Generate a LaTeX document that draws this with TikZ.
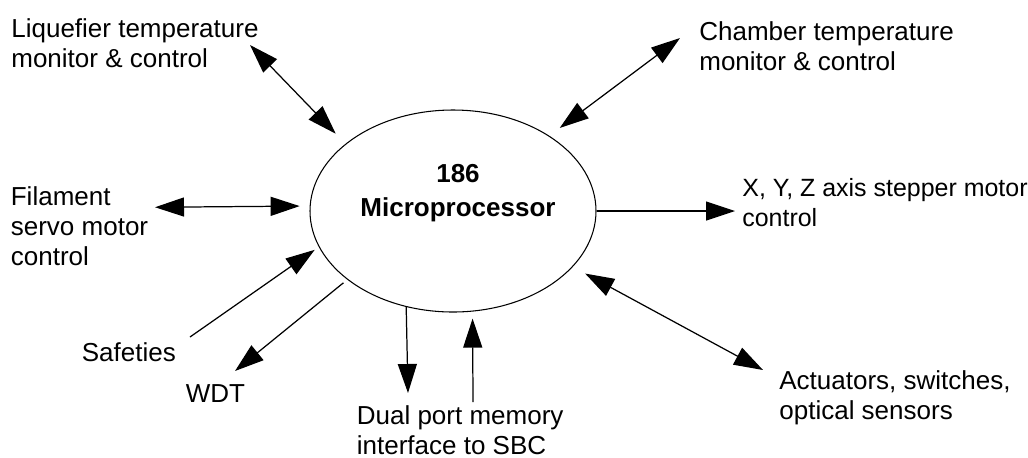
\documentclass[tikz,border=0pt]{standalone}
\usepackage{fontspec}
\setmainfont{Liberation Sans}
\usetikzlibrary{arrows.meta, positioning, calc, shapes.geometric}

\begin{document}
\begin{tikzpicture}[
  every node/.style={text=black, font=\fontsize{14.8}{17}\selectfont},
  lbl/.style={anchor=north west, inner sep=0pt, align=left},
  cpubox/.style={ellipse, draw, line width=0.6pt,
    minimum width=5.72cm, minimum height=4.04cm, inner sep=0pt},
  link/.style={line width=0.7pt, -{Triangle[length=5.8mm, width=3.8mm]}},
  twoway/.style={line width=0.7pt,
    {Triangle[length=5.8mm, width=3.8mm]}-{Triangle[length=5.8mm, width=3.8mm]}},
]

% Page frame
\useasboundingbox (0,0) rectangle (20.56,-9.14);

% Microprocessor
\node[cpubox] (cpu) at (9.06,-4.22) {};
\node[anchor=north, align=center, inner sep=0pt,
  font=\fontsize{14.8}{19.3}\selectfont\bfseries] (cputxt) at (9.16,-3.28)
  {186\\Microprocessor};

% Labels around the processor
\node[lbl] (liq) at (0.22,-0.36) {Liquefier temperature\\monitor \& control};
\node[lbl] (cham) at (13.98,-0.43) {Chamber temperature\\monitor \& control};
\node[lbl] (fil) at (0.21,-3.73) {Filament\\servo motor\\control};
\node[lbl] (saf) at (1.63,-6.85) {Safeties};
\node[lbl] (wdt) at (3.71,-7.68) {WDT};
\node[lbl] (dpm) at (7.13,-8.1) {Dual port memory\\interface to SBC};
\node[lbl, font=\fontsize{14.2}{17}\selectfont] (xyz) at (14.84,-3.56)
  {X, Y, Z axis stepper motor\\control};
\node[lbl] (act) at (15.58,-7.41) {Actuators, switches,\\optical sensors};

% Free ends of the connectors
\coordinate (liqend) at (5.0,-0.9);
\coordinate (chamend) at (13.6,-0.76);
\coordinate (filend) at (3.1,-4.145);
\coordinate (safend) at (3.8,-6.74);
\coordinate (wdtend) at (4.7,-7.42);
\coordinate (dpmout) at (8.16,-7.86);
\coordinate (dpmin) at (9.46,-8.04);
\coordinate (xyzend) at (14.7,-4.22);
\coordinate (actend) at (15.26,-7.4);

% Connectors
\draw[twoway, shorten <=2.8mm] (cpu.148.3) -- (liqend);
\draw[twoway, shorten <=2.6mm] (cpu.38.7) -- (chamend);
\draw[twoway, shorten <=2mm] (cpu.178.5) -- (filend);
\draw[link, shorten >=1mm] (safend) -- (cpu.195.8);
\draw[link, shorten <=1mm] (cpu.213.2) -- (wdtend);
\draw[link] (cpu.244.9) -- (dpmout);
\draw[link, shorten >=1.4mm] (dpmin) -- (cpu.281.3);
\draw[link] (cpu.east) -- (xyzend);
\draw[twoway, shorten <=2.8mm] (cpu.335.2) -- (actend);

\end{tikzpicture}
\end{document}
